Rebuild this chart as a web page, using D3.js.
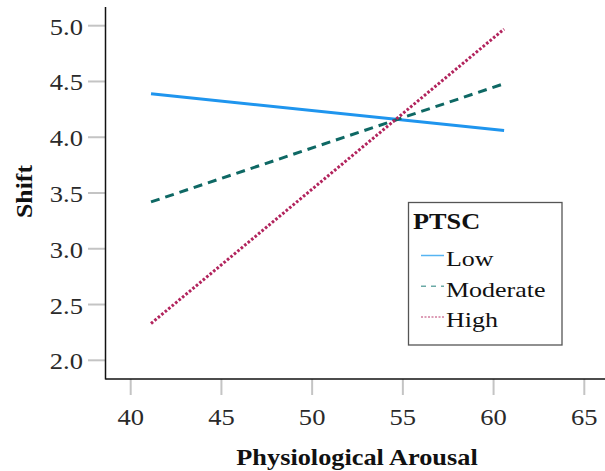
<!DOCTYPE html>
<html><head><meta charset="utf-8">
<script src="https://cdn.jsdelivr.net/npm/d3@7"></script>
<style>body{margin:0;background:#fff;}svg{display:block;}</style>
</head><body>
<svg id="c" width="605" height="471"></svg>
<script>
const groups = ["Low", "Moderate", "High"];
const xValues = [41.12, 60.58];
const lowValues = [4.39, 4.06];
const moderateValues = [3.42, 4.48];
const highValues = [2.33, 4.97];
const xTicks = [40, 45, 50, 55, 60, 65];
const yTicks = [2.0, 2.5, 3.0, 3.5, 4.0, 4.5, 5.0];
const colors = ["#1f95ee", "#0e6864", "#b2245d"];
const dashes = [null, "9,6", "2.6,1.9"];
const legendDashes = [null, "5,5", "2,1.5"];
const legendColors = ["#56b4f2", "#6aa9a6", "#d27d9f"];

(function () {
const svg = d3.select("#c");
const pLeft = 105.5, pBottom = 379, pTop = 7, pRight = 605;
const x = d3.scaleLinear().domain([40, 65]).range([130.7, 584.3]);
const y = d3.scaleLinear().domain([2.0, 5.0]).range([360.3, 25.7]);

const serif = "'Liberation Serif', 'Times New Roman', serif";

function txt(parent, tx, ty, str, size, k, opts = {}) {
  const rot = opts.rotate ? ` rotate(${opts.rotate})` : "";
  return parent.append("text")
    .attr("transform", `translate(${tx},${ty})${rot} scale(${k},1)`)
    .attr("text-anchor", opts.anchor || "start")
    .attr("font-family", serif)
    .attr("font-weight", opts.bold ? "bold" : "normal")
    .attr("font-size", size)
    .attr("fill", opts.fill || "#111")
    .text(str);
}

// y ticks
svg.append("g").selectAll("line").data(yTicks).join("line")
  .attr("x1", 88).attr("x2", pLeft).attr("y1", d => y(d)).attr("y2", d => y(d))
  .attr("stroke", "#c4c4c4").attr("stroke-width", 2);
const yl = svg.append("g");
yTicks.forEach(d => txt(yl, 83, y(d) + 9, d3.format(".1f")(d), 23.5, 1.13, {anchor: "end", fill: "#2a2a2a"}));

// x ticks
svg.append("g").selectAll("line").data(xTicks).join("line")
  .attr("x1", d => x(d)).attr("x2", d => x(d)).attr("y1", pBottom).attr("y2", 395)
  .attr("stroke", "#c4c4c4").attr("stroke-width", 2);
const xl = svg.append("g");
xTicks.forEach(d => txt(xl, x(d), 425, String(d), 23.5, 1.13, {anchor: "middle", fill: "#2a2a2a"}));

// axis lines
svg.append("line").attr("x1", pLeft).attr("x2", pLeft).attr("y1", pTop).attr("y2", pBottom + 0.5)
  .attr("stroke", "#111").attr("stroke-width", 1.5);
svg.append("line").attr("x1", pLeft).attr("x2", pRight).attr("y1", pBottom).attr("y2", pBottom)
  .attr("stroke", "#111").attr("stroke-width", 1.5);

// titles
txt(svg, 357, 465, "Physiological Arousal", 22.5, 1.17, {anchor: "middle", bold: true});
txt(svg, 32, 191.5, "Shift", 23, 1.12, {anchor: "middle", bold: true, rotate: -90});

// lines
const series = [lowValues, moderateValues, highValues];
const line = d3.line().x(d => x(d[0])).y(d => y(d[1]));
series.forEach((vals, i) => {
  svg.append("path").datum(xValues.map((xv, j) => [xv, vals[j]]))
    .attr("d", line).attr("fill", "none").attr("stroke", colors[i])
    .attr("stroke-width", 3).attr("stroke-dasharray", dashes[i]);
});

// legend
const lg = svg.append("g");
lg.append("rect").attr("x", 408.5).attr("y", 202.5).attr("width", 153.5).attr("height", 142.5)
  .attr("fill", "#fff").attr("stroke", "#555").attr("stroke-width", 1.3);
txt(lg, 413, 229, "PTSC", 23.5, 1.12, {bold: true});
groups.forEach((g, i) => {
  const yy = 255.5 + i * 30.7;
  lg.append("line").attr("x1", 421).attr("x2", 444).attr("y1", yy).attr("y2", yy)
    .attr("stroke", legendColors[i]).attr("stroke-width", 1.5).attr("stroke-dasharray", legendDashes[i]);
  txt(lg, 446, yy + 10.5, g, 22, 1.18);
});
})();
</script>
</body></html>
